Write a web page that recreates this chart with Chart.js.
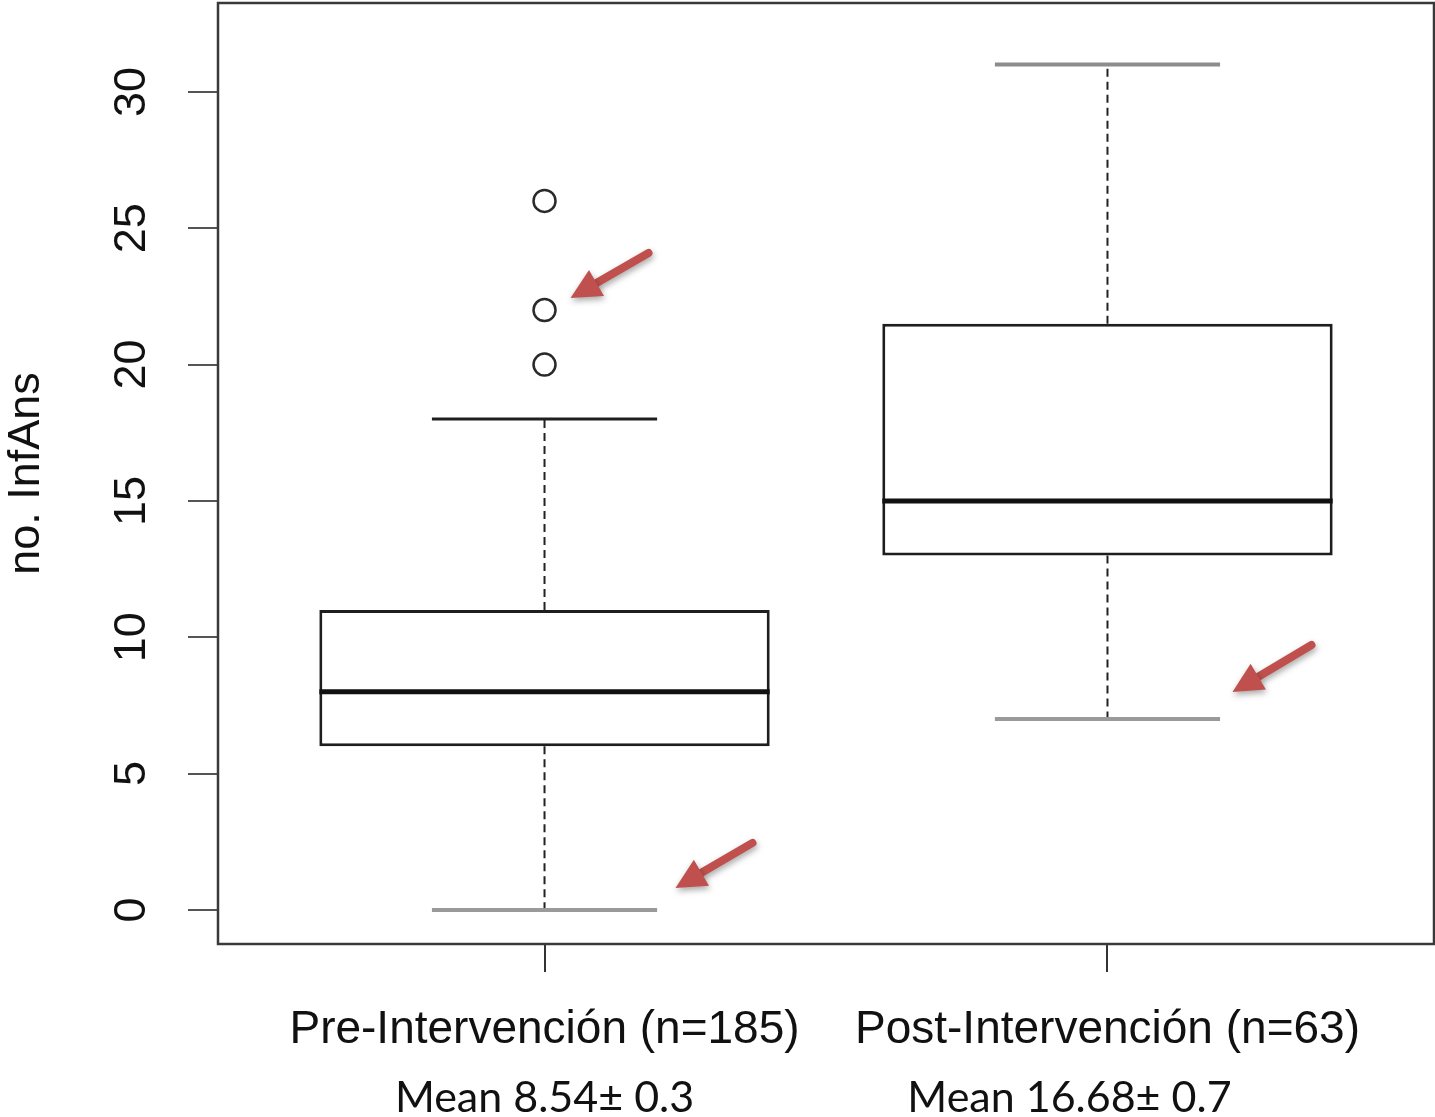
<!DOCTYPE html>
<html>
<head>
<meta charset="utf-8">
<script src="https://cdn.jsdelivr.net/npm/chart.js@4"></script>
<style>
  html, body { margin: 0; padding: 0; background: #fff; }
  #wrap { width: 1435px; height: 1117px; }
</style>
</head>
<body>
<div id="wrap"><canvas id="chartBox" width="1435" height="1117"></canvas></div>
<script>
// =========================================================================
// Boxplot no. InfAns — pre / post intervención
// =========================================================================
const grupos = ['Pre-Intervención (n=185)', 'Post-Intervención (n=63)'];
const mediasTxt = ['Mean 8.54\u00B1 0.3', 'Mean 16.68\u00B1 0.7'];
const bigoteInf = [0, 7];
const cuartil1 = [6, 13];
const mediana = [8, 15];
const cuartil3 = [11, 21.5];
const bigoteSup = [18, 31];
const atipicos = [[20, 22, 26], []];
const yTicks = [0, 5, 10, 15, 20, 25, 30];

// flechas rojas: grupo + valor de anclaje (la geometría va en pixeles aparte)
const flechaGrupo = [1, 1, 2];
const flechaValor = [22, 0, 7];

const xPos = grupos.map((g, i) => i + 1);
const ROJO = '#c0504d';
const capColorInf = ['#9a9a9a', '#9a9a9a'];
const capColorSup = ['#1e1e1e', '#8c8c8c'];
const capWidthInf = [4, 4];
const capWidthSup = [3, 4];
const flechaOff = [
  { tip: [26, -12], tail: [104, -57] },   // desde el punto atípico
  { tip: [131, -22], tail: [208, -67] },  // desde el bigote inferior
  { tip: [125, -27], tail: [204, -74] }
];
const mediaDx = [0, -38];

function sinPadding(s) {
  s.paddingTop = 0; s.paddingBottom = 0; s.paddingLeft = 0; s.paddingRight = 0;
}

const boxplotPlugin = {
  id: 'boxplotPlugin',
  beforeDatasetsDraw(chart) {
    const { ctx, chartArea: a } = chart;
    ctx.save();
    ctx.strokeStyle = '#3a3a3a';
    ctx.lineWidth = 2.5;
    ctx.strokeRect(a.left, a.top, a.right - a.left, a.bottom - a.top);
    ctx.restore();
  },
  afterDatasetsDraw(chart) {
    const { ctx, scales: { x, y } } = chart;
    const meta = chart.getDatasetMeta(0);
    ctx.save();
    xPos.forEach((v, i) => {
      const cx = x.getPixelForValue(v);
      const w = meta.data[i].getProps(['width'], true).width;
      const left = cx - w / 2, right = cx + w / 2;
      const capHalf = w / 4;
      // bigotes punteados
      ctx.strokeStyle = '#222';
      ctx.lineWidth = 2;
      ctx.setLineDash([8, 5]);
      ctx.beginPath();
      ctx.moveTo(cx, y.getPixelForValue(cuartil3[i]));
      ctx.lineTo(cx, y.getPixelForValue(bigoteSup[i]));
      ctx.moveTo(cx, y.getPixelForValue(cuartil1[i]));
      ctx.lineTo(cx, y.getPixelForValue(bigoteInf[i]));
      ctx.stroke();
      ctx.setLineDash([]);
      // topes
      ctx.strokeStyle = capColorSup[i];
      ctx.lineWidth = capWidthSup[i];
      ctx.beginPath();
      ctx.moveTo(cx - capHalf, y.getPixelForValue(bigoteSup[i]));
      ctx.lineTo(cx + capHalf, y.getPixelForValue(bigoteSup[i]));
      ctx.stroke();
      ctx.strokeStyle = capColorInf[i];
      ctx.lineWidth = capWidthInf[i];
      ctx.beginPath();
      ctx.moveTo(cx - capHalf, y.getPixelForValue(bigoteInf[i]));
      ctx.lineTo(cx + capHalf, y.getPixelForValue(bigoteInf[i]));
      ctx.stroke();
      // mediana
      ctx.strokeStyle = '#111';
      ctx.lineWidth = 5;
      ctx.beginPath();
      ctx.moveTo(left, y.getPixelForValue(mediana[i]));
      ctx.lineTo(right, y.getPixelForValue(mediana[i]));
      ctx.stroke();
    });

    // flechas de anotación
    flechaGrupo.forEach((g, k) => {
      const ax = x.getPixelForValue(g), ay = y.getPixelForValue(flechaValor[k]);
      const tx = ax + flechaOff[k].tip[0], ty = ay + flechaOff[k].tip[1];
      const sx = ax + flechaOff[k].tail[0], sy = ay + flechaOff[k].tail[1];
      const ang = Math.atan2(ty - sy, tx - sx);
      const headL = 30, headW = 15;
      const bx = tx - headL * Math.cos(ang), by = ty - headL * Math.sin(ang);
      ctx.save();
      ctx.shadowColor = 'rgba(0,0,0,0.35)';
      ctx.shadowBlur = 6;
      ctx.shadowOffsetX = 1;
      ctx.shadowOffsetY = 3;
      ctx.strokeStyle = ROJO;
      ctx.fillStyle = ROJO;
      ctx.lineWidth = 8;
      ctx.lineCap = 'round';
      ctx.beginPath();
      ctx.moveTo(sx, sy);
      ctx.lineTo(bx, by);
      ctx.stroke();
      ctx.beginPath();
      ctx.moveTo(tx, ty);
      ctx.lineTo(bx + headW * Math.sin(ang), by - headW * Math.cos(ang));
      ctx.lineTo(bx - headW * Math.sin(ang), by + headW * Math.cos(ang));
      ctx.closePath();
      ctx.fill();
      ctx.restore();
    });

    // segunda línea de etiquetas (medias)
    ctx.fillStyle = '#111';
    ctx.font = '43px Lato';
    ctx.textAlign = 'center';
    ctx.textBaseline = 'middle';
    xPos.forEach((v, i) => {
      ctx.fillText(mediasTxt[i], x.getPixelForValue(v) + mediaDx[i], x.top + 154);
    });
    ctx.restore();
  }
};

const puntosAtipicos = [];
atipicos.forEach((arr, i) => arr.forEach(v => puntosAtipicos.push({ x: xPos[i], y: v })));

const ctx = document.getElementById('chartBox').getContext('2d');
new Chart(ctx, {
  type: 'bar',
  data: {
    datasets: [
      {
        type: 'bar',
        data: xPos.map((v, i) => ({ x: v, y: [cuartil1[i], cuartil3[i]] })),
        backgroundColor: '#ffffff',
        borderColor: '#1e1e1e',
        borderWidth: 3,
        borderSkipped: false,
        barPercentage: 0.8,
        categoryPercentage: 1
      },
      {
        type: 'scatter',
        data: puntosAtipicos,
        pointStyle: 'circle',
        pointRadius: 11,
        borderColor: '#2a2a2a',
        borderWidth: 2.5,
        backgroundColor: 'rgba(0,0,0,0)'
      }
    ]
  },
  options: {
    responsive: false,
    animation: false,
    layout: { autoPadding: false, padding: { top: 3, right: 1, left: 0, bottom: 0 } },
    plugins: { legend: { display: false }, tooltip: { enabled: false } },
    scales: {
      x: {
        type: 'linear', min: 0.42, max: 2.58, offset: false,
        grid: { drawOnChartArea: false, offset: false, tickLength: 28, color: '#333', lineWidth: 2 },
        border: { display: false },
        afterBuildTicks: s => { s.ticks = xPos.map(v => ({ value: v })); },
        ticks: {
          callback: v => grupos[v - 1],
          font: { family: 'Liberation Sans', size: 46 },
          color: '#111', padding: 31, maxRotation: 0, autoSkip: false
        },
        afterFit: s => { s.height = 173; sinPadding(s); }
      },
      y: {
        type: 'linear', min: -1.25, max: 33.26,
        grid: { drawOnChartArea: false, tickLength: 30, color: '#555', lineWidth: 2 },
        border: { display: false },
        afterBuildTicks: s => { s.ticks = yTicks.map(v => ({ value: v })); },
        ticks: {
          minRotation: 90, maxRotation: 90, crossAlign: 'center', padding: 30,
          font: { family: 'Liberation Sans', size: 45 }, color: '#111'
        },
        title: {
          display: true, text: 'no. InfAns', padding: 0,
          font: { family: 'Liberation Sans', size: 45 }, color: '#111'
        },
        afterFit: s => { s.width = 218; sinPadding(s); }
      }
    }
  },
  plugins: [boxplotPlugin]
});
</script>
</body>
</html>
